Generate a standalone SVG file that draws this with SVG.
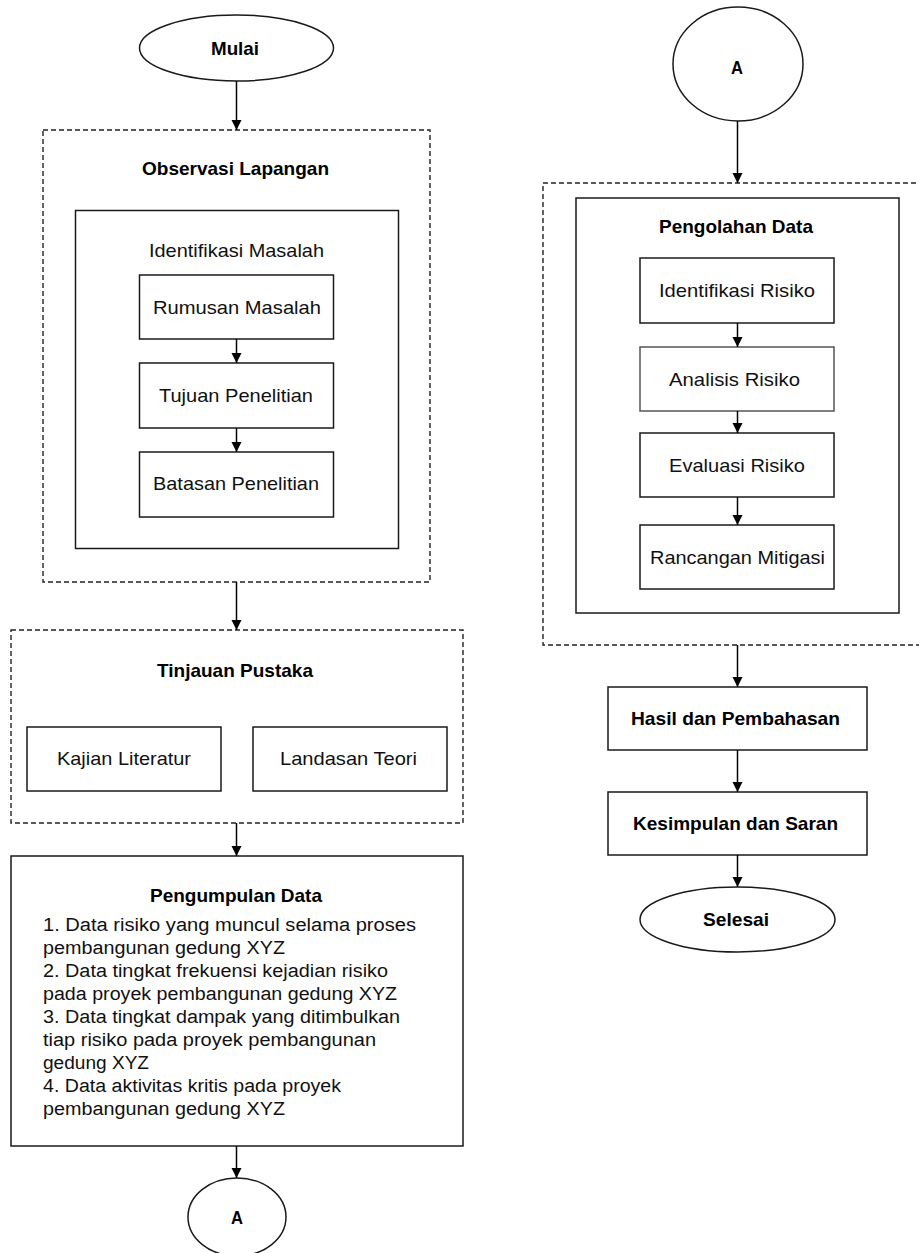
<svg xmlns="http://www.w3.org/2000/svg" width="919" height="1253" viewBox="0 0 919 1253">
<defs>
<marker id="arr" markerUnits="userSpaceOnUse" markerWidth="10" markerHeight="11" refX="10" refY="5" orient="auto">
<path d="M0,0 L10,5 L0,10 z" fill="#000"/>
</marker>
<style>
.box{fill:#fff;stroke:#1a1a1a;stroke-width:1.5}
.dash{fill:none;stroke:#222;stroke-width:1.4;stroke-dasharray:5 3}
.t{font-family:"Liberation Sans",Arial,sans-serif;font-size:19px;fill:#111;text-anchor:middle}
.b{font-family:"Liberation Sans",Arial,sans-serif;font-size:19px;font-weight:bold;fill:#000;text-anchor:middle}
.l{font-family:"Liberation Sans",Arial,sans-serif;font-size:18px;fill:#111}
.c{fill:none;stroke:#000;stroke-width:1.5;marker-end:url(#arr)}
</style>
</defs>
<rect width="919" height="1253" fill="#fff"/>

<g id="mulai">
<ellipse cx="236.5" cy="48" rx="97" ry="33" class="box"/>
<text x="235" y="55" class="b" textLength="48" lengthAdjust="spacingAndGlyphs">Mulai</text>
</g>

<g id="observasi">
<rect x="43" y="130" width="387" height="452" class="dash"/>
<text x="235.5" y="175" class="b" textLength="187" lengthAdjust="spacingAndGlyphs">Observasi Lapangan</text>
</g>
<g id="identifikasi-masalah">
<rect x="75.5" y="210.5" width="323" height="338" class="box"/>
<text x="236.5" y="257" class="t" textLength="175" lengthAdjust="spacingAndGlyphs">Identifikasi Masalah</text>
</g>
<g id="rumusan">
<rect x="139.5" y="275" width="194" height="64" class="box"/>
<text x="237" y="314" class="t" textLength="168" lengthAdjust="spacingAndGlyphs">Rumusan Masalah</text>
</g>
<g id="tujuan">
<rect x="139.5" y="363" width="194" height="65" class="box"/>
<text x="236" y="402" class="t" textLength="154" lengthAdjust="spacingAndGlyphs">Tujuan Penelitian</text>
</g>
<g id="batasan">
<rect x="139.5" y="452" width="194" height="65" class="box"/>
<text x="236" y="490" class="t" textLength="166" lengthAdjust="spacingAndGlyphs">Batasan Penelitian</text>
</g>

<g id="tinjauan">
<rect x="11" y="630" width="452" height="193" class="dash"/>
<text x="235" y="677" class="b" textLength="156" lengthAdjust="spacingAndGlyphs">Tinjauan Pustaka</text>
</g>
<g id="kajian">
<rect x="27" y="727" width="194" height="64" class="box"/>
<text x="124" y="765" class="t" textLength="134" lengthAdjust="spacingAndGlyphs">Kajian Literatur</text>
</g>
<g id="landasan">
<rect x="253" y="727" width="194" height="64" class="box"/>
<text x="348.5" y="765" class="t" textLength="137" lengthAdjust="spacingAndGlyphs">Landasan Teori</text>
</g>

<g id="pengumpulan">
<rect x="11" y="856" width="452" height="290" class="box"/>
<text x="236" y="902" class="b" textLength="172" lengthAdjust="spacingAndGlyphs">Pengumpulan Data</text>
<text x="43" y="931" class="l" textLength="373" lengthAdjust="spacingAndGlyphs">1. Data risiko yang muncul selama proses</text>
<text x="43" y="954" class="l" textLength="242" lengthAdjust="spacingAndGlyphs">pembangunan gedung XYZ</text>
<text x="43" y="977" class="l" textLength="345" lengthAdjust="spacingAndGlyphs">2. Data tingkat frekuensi kejadian risiko</text>
<text x="43" y="1000" class="l" textLength="354" lengthAdjust="spacingAndGlyphs">pada proyek pembangunan gedung XYZ</text>
<text x="43" y="1023" class="l" textLength="357" lengthAdjust="spacingAndGlyphs">3. Data tingkat dampak yang ditimbulkan</text>
<text x="43" y="1046" class="l" textLength="333" lengthAdjust="spacingAndGlyphs">tiap risiko pada proyek pembangunan</text>
<text x="43" y="1069" class="l" textLength="106" lengthAdjust="spacingAndGlyphs">gedung XYZ</text>
<text x="43" y="1092" class="l" textLength="298" lengthAdjust="spacingAndGlyphs">4. Data aktivitas kritis pada proyek</text>
<text x="43" y="1115" class="l" textLength="242" lengthAdjust="spacingAndGlyphs">pembangunan gedung XYZ</text>
</g>

<g id="connector-a-bottom">
<ellipse cx="237" cy="1217" rx="49" ry="39" class="box"/>
<text x="237" y="1224" class="b" textLength="12" lengthAdjust="spacingAndGlyphs">A</text>
</g>

<g id="connector-a-top">
<ellipse cx="738" cy="64" rx="65" ry="57" class="box"/>
<text x="737" y="74" class="b" textLength="12" lengthAdjust="spacingAndGlyphs">A</text>
</g>

<g id="pengolahan-outer">
<rect x="543" y="183" width="390" height="462" class="dash"/>
</g>
<g id="pengolahan">
<rect x="576" y="198" width="323" height="415" class="box"/>
<text x="736" y="233" class="b" textLength="154" lengthAdjust="spacingAndGlyphs">Pengolahan Data</text>
</g>
<g id="identifikasi-risiko">
<rect x="640" y="258" width="194" height="65" class="box"/>
<text x="737" y="297" class="t" textLength="156" lengthAdjust="spacingAndGlyphs">Identifikasi Risiko</text>
</g>
<g id="analisis-risiko">
<rect x="640" y="347" width="194" height="64" class="box" style="stroke:#555"/>
<text x="734.5" y="386" class="t" textLength="131" lengthAdjust="spacingAndGlyphs">Analisis Risiko</text>
</g>
<g id="evaluasi-risiko">
<rect x="640" y="433" width="194" height="64" class="box"/>
<text x="737" y="472" class="t" textLength="136" lengthAdjust="spacingAndGlyphs">Evaluasi Risiko</text>
</g>
<g id="rancangan-mitigasi">
<rect x="640" y="525" width="194" height="64" class="box"/>
<text x="737.5" y="564" class="t" textLength="175" lengthAdjust="spacingAndGlyphs">Rancangan Mitigasi</text>
</g>

<g id="hasil">
<rect x="608" y="687" width="259" height="63" class="box"/>
<text x="735.5" y="725" class="b" textLength="209" lengthAdjust="spacingAndGlyphs">Hasil dan Pembahasan</text>
</g>
<g id="kesimpulan">
<rect x="608" y="792" width="259" height="63" class="box"/>
<text x="735.5" y="830" class="b" textLength="205" lengthAdjust="spacingAndGlyphs">Kesimpulan dan Saran</text>
</g>
<g id="selesai">
<ellipse cx="737.5" cy="919.5" rx="97.5" ry="32.5" class="box"/>
<text x="736" y="926" class="b" textLength="66" lengthAdjust="spacingAndGlyphs">Selesai</text>
</g>

<g id="connectors">
<line x1="236.5" y1="81" x2="236.5" y2="130" class="c"/>
<line x1="236.5" y1="339" x2="236.5" y2="363" class="c"/>
<line x1="236.5" y1="428" x2="236.5" y2="452" class="c"/>
<line x1="236.5" y1="582" x2="236.5" y2="630" class="c"/>
<line x1="236.5" y1="823" x2="236.5" y2="856" class="c"/>
<line x1="236.5" y1="1146" x2="236.5" y2="1178" class="c"/>
<line x1="737.5" y1="121" x2="737.5" y2="183" class="c"/>
<line x1="737.5" y1="323" x2="737.5" y2="347" class="c"/>
<line x1="737.5" y1="411" x2="737.5" y2="433" class="c"/>
<line x1="737.5" y1="497" x2="737.5" y2="525" class="c"/>
<line x1="737.5" y1="645" x2="737.5" y2="687" class="c"/>
<line x1="737.5" y1="750" x2="737.5" y2="792" class="c"/>
<line x1="737.5" y1="855" x2="737.5" y2="887" class="c"/>
</g>
</svg>
